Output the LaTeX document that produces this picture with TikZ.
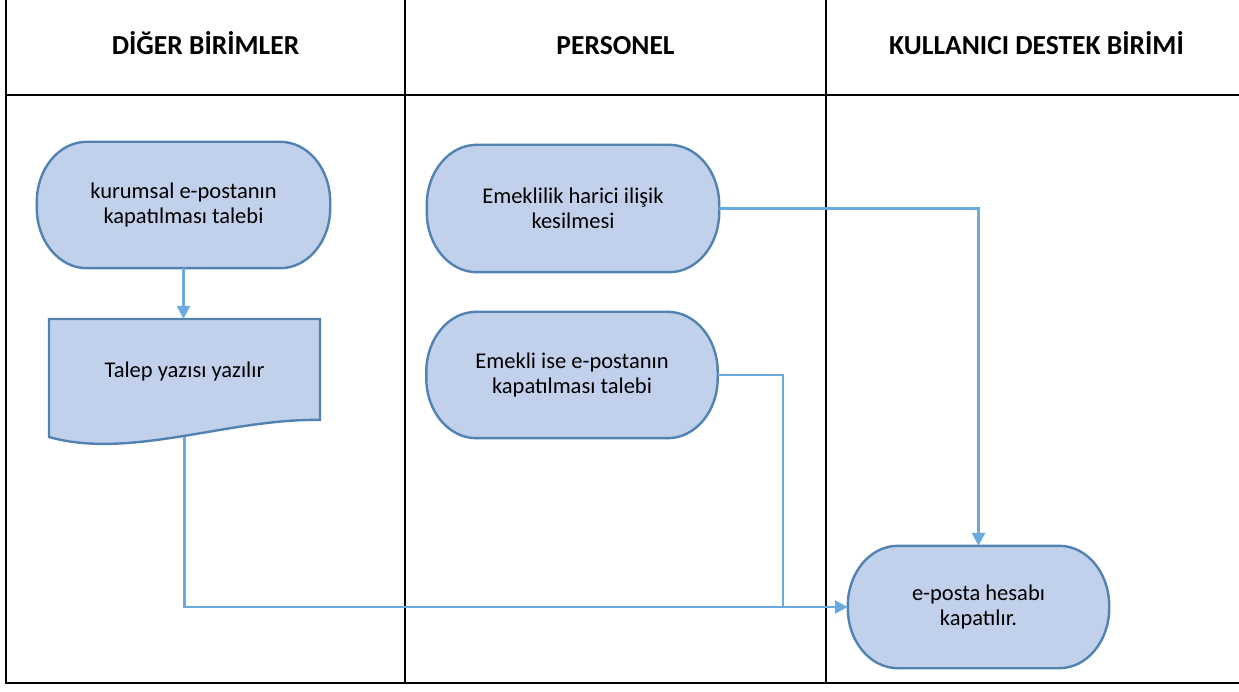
\documentclass[tikz,border=0pt]{standalone}
\usepackage{fontspec}
\setmainfont{Carlito}
\usetikzlibrary{arrows.meta,backgrounds}
\definecolor{boxfill}{HTML}{C2D1EB}
\definecolor{boxline}{HTML}{5282B2}
\definecolor{connclr}{HTML}{6AAADE}
\tikzset{
  frameline/.style={line width=2.6pt,black},
  header/.style={font=\fontsize{27.5}{31}\selectfont\bfseries,anchor=base,inner sep=0pt},
  termbox/.style={inner sep=0pt,align=center,font=\fontsize{22.5}{25.5}\selectfont,minimum height=#1},
  termbox/.default=126pt,
  bodytext/.style={inner sep=0pt,align=center,font=\fontsize{22.5}{25.5}\selectfont},
  shapestyle/.style={fill=boxfill,draw=boxline,line width=2.4pt},
  connline/.style={draw=connclr,line width=2.4pt},
  connector/.style={connline,-{Triangle[length=13pt 0,width=13pt 0]}}
}
\newcommand\termshape[1]{%
  \path[shapestyle] ([xshift=50pt]#1.north west) -- ([xshift=-50pt]#1.north east)
    arc[start angle=90,end angle=0,x radius=50pt,y radius=60pt]
    -- ([yshift=60pt]#1.south east)
    arc[start angle=0,end angle=-90,x radius=50pt,y radius=60pt]
    -- ([xshift=50pt]#1.south west)
    arc[start angle=270,end angle=180,x radius=50pt,y radius=60pt]
    -- ([yshift=-60pt]#1.north west)
    arc[start angle=180,end angle=90,x radius=50pt,y radius=60pt] -- cycle;}
\begin{document}
\begin{tikzpicture}[x=1pt,y=1pt]
\path[use as bounding box] (0,0) rectangle (1239,691);
\clip (0,0) rectangle (1239,691);
% frame
\draw[frameline] (6,700) -- (6,8) -- (1250,8);
\draw[frameline] (6,596) -- (1250,596);
\draw[frameline] (405,700) -- (405,8);
\draw[frameline] (826,700) -- (826,8);
% headers
\node[header] (h1) at (205.5,636) {DİĞER BİRİMLER};
\node[header] (h2) at (615.5,636) {PERSONEL};
\node[header] (h3) at (1036.5,636) {KULLANICI DESTEK BİRİMİ};
% nodes
\node[termbox,minimum width=293pt] (t1) at (183.5,486) {kurumsal e-postanın\\kapatılması talebi};
\node[termbox=127pt,minimum width=292pt] (t2) at (573,482.5) {Emeklilik harici ilişik\\kesilmesi};
\node[termbox,minimum width=291pt] (t3) at (572,316) {Emekli ise e-postanın\\kapatılması talebi};
\node[termbox=122pt,minimum width=261pt] (t4) at (978.5,84) {e-posta hesabı\\kapatılır.};
\node[inner sep=0pt,minimum width=271pt,minimum height=118pt] (doc) at (184.5,313) {};
\node[bodytext] (doctext) at (184.5,319) {Talep yazısı yazılır};
\begin{scope}[on background layer]
  \fill[white] (0,0) rectangle (1239,691);
  \termshape{t1}
  \termshape{t2}
  \termshape{t3}
  \termshape{t4}
  \path[shapestyle] (49,254) -- (49,372) -- (320,372) -- (320,271)
     .. controls (230,273) and (130,231) .. (49,254) -- cycle;
\end{scope}
% connectors
\coordinate (jn) at (783,84);
\draw[connector] (t1.south) -- (t1.south |- doc.north);
\draw[connector] (t2.east) -| (t4.north);
\draw[connline] (t3.east) -| (jn);
\draw[connector] (doc.south) |- (t4.west);
\end{tikzpicture}
\end{document}
